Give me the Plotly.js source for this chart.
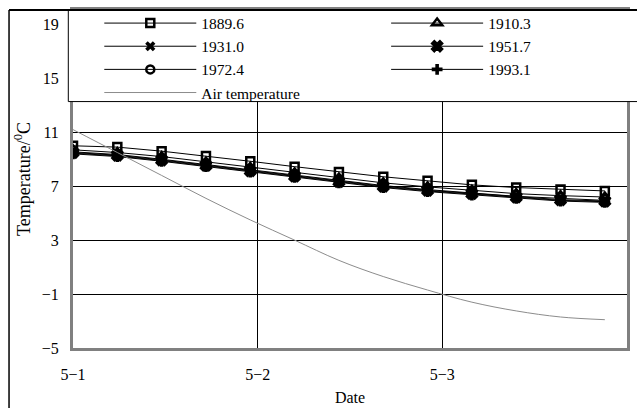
<!DOCTYPE html>
<html>
<head>
<meta charset="utf-8">
<script src="https://cdn.plot.ly/plotly-3.0.1.min.js"></script>
<style>html,body{margin:0;padding:0;background:#fff;}</style>
</head>
<body>
<div id="chart" style="width:637px;height:408px;"></div>
<script>
// x positions in days from 5-1
var days = [0, 0.24, 0.48, 0.72, 0.96, 1.20, 1.44, 1.68, 1.92, 2.16, 2.40, 2.64, 2.88];
var seriesNames = ["1889.6", "1910.3", "1931.0", "1951.7", "1972.4", "1993.1"];
var s1889 = [10.0, 9.9, 9.6, 9.25, 8.85, 8.45, 8.05, 7.7, 7.4, 7.1, 6.9, 6.75, 6.65];
var s1910 = [9.7, 9.5, 9.2, 8.8, 8.4, 8.0, 7.6, 7.25, 6.95, 6.7, 6.45, 6.3, 6.2];
var s1931 = [9.55, 9.35, 9.0, 8.6, 8.2, 7.8, 7.4, 7.05, 6.75, 6.5, 6.25, 6.1, 5.95];
var s1951 = [9.5, 9.3, 8.95, 8.55, 8.15, 7.75, 7.35, 7.0, 6.7, 6.45, 6.2, 6.0, 5.9];
var s1972 = [9.45, 9.25, 8.9, 8.5, 8.1, 7.7, 7.3, 6.95, 6.65, 6.4, 6.15, 5.95, 5.85];
var s1993 = [9.4, 9.2, 8.85, 8.45, 8.05, 7.65, 7.25, 6.9, 6.6, 6.35, 6.1, 5.9, 5.8];
var airTemp = [11.2, 9.5, 7.8, 6.1, 4.5, 3.0, 1.5, 0.3, -0.7, -1.6, -2.25, -2.7, -2.9];
var airName = "Air temperature";
var xTickVals = [0, 1, 2, 3];
var xTickText = ["5\u22121", "5\u22122", "5\u22123", "5\u22124"];
var yTickVals = [-5, -1, 3, 7, 11, 15, 19];

var seriesValues = [s1889, s1910, s1931, s1951, s1972, s1993];
var symbols = ["square-open", "triangle-up-open", "x", "x", "circle-open", "cross"];
var symSizes = [8, 9, 9, 10, 8, 9];
var symLineW = [2.5, 2.5, 0, 1.5, 2.5, 0];
var legendOf = ["legend", "legend2", "legend", "legend2", "legend", "legend2"];

var traces = [];
for (var i = 0; i < seriesNames.length; i++) {
  traces.push({
    x: days, y: seriesValues[i], name: seriesNames[i],
    type: "scatter", mode: "lines+markers", legend: legendOf[i],
    line: {color: "#000", width: 1},
    marker: {symbol: symbols[i], size: symSizes[i], color: "#000",
             line: {color: "#000", width: symLineW[i]}}
  });
}
traces.push({
  x: days, y: airTemp, name: airName, type: "scatter", mode: "lines", legend: "legend",
  line: {color: "#8c8c8c", width: 1, shape: "spline"}
});

// pixel helpers for decorative frame
var L = 72.7, R = 627, T = 10, B = 348.5;
function px(x) { return (x - L) / (R - L); }
function py(y) { return (B - y) / (B - T); }

var legendFont = {family: "Liberation Serif, Times New Roman, serif", size: 15.5, color: "#000"};
function legendAt(xpix) {
  return {
    orientation: "v", x: px(xpix), y: py(6.5), xanchor: "left", yanchor: "top",
    bgcolor: "rgba(0,0,0,0)", borderwidth: 0, itemwidth: 92,
    font: legendFont, traceorder: "normal", tracegroupgap: 0
  };
}

var layout = {
  width: 637, height: 408,
  margin: {l: L, r: 637 - R, t: T, b: 408 - B, pad: 0, autoexpand: false},
  paper_bgcolor: "#fff", plot_bgcolor: "#fff",
  font: {family: "Liberation Serif, Times New Roman, serif", size: 16, color: "#000"},
  showlegend: true,
  legend: legendAt(99),
  legend2: legendAt(386),
  xaxis: {
    range: [0, 3], tickvals: xTickVals, ticktext: xTickText,
    showgrid: true, gridcolor: "#000", gridwidth: 1, zeroline: false,
    showline: true, linecolor: "#808080", linewidth: 3, mirror: true,
    ticks: "", ticklabelstandoff: 10,
    title: {text: "Date", font: {size: 16}, standoff: 10}
  },
  yaxis: {
    range: [-5, 20.07], tickvals: yTickVals,
    showgrid: true, gridcolor: "#000", gridwidth: 1, zeroline: false,
    showline: true, linecolor: "#808080", linewidth: 3, mirror: true,
    ticks: "", ticklabelstandoff: 8,
    title: {text: "Temperature/<sup>0</sup>C", font: {size: 18}, standoff: 7}
  },
  shapes: [
    {type: "rect", xref: "paper", yref: "paper", x0: px(68), x1: px(660), y0: py(101.7), y1: py(10),
     fillcolor: "#fff", line: {color: "#000", width: 1}, layer: "above"},
    {type: "line", xref: "paper", yref: "paper", x0: px(8.7), x1: px(8.7), y0: py(10), y1: py(420),
     line: {color: "#000", width: 1.5}, layer: "above"},
    {type: "line", xref: "paper", yref: "paper", x0: px(8.7), x1: px(660), y0: py(10), y1: py(10),
     line: {color: "#000", width: 2}, layer: "above"}
  ]
};

Plotly.newPlot("chart", traces, layout, {displayModeBar: false, staticPlot: true});
</script>
</body>
</html>
